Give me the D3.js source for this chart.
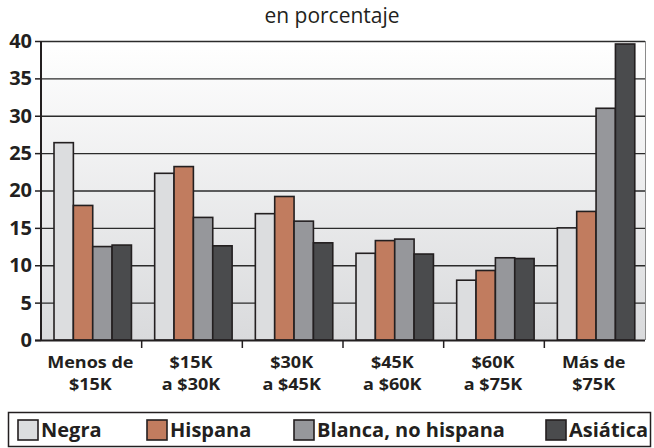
<!DOCTYPE html>
<html>
<head>
<meta charset="utf-8">
<script src="https://cdn.jsdelivr.net/npm/d3@7"></script>
<style>
  html, body { margin: 0; padding: 0; background: #fff; }
  svg { display: block; }
  text { font-family: "Open Sans", "Noto Sans", sans-serif; fill: #231f20; }
</style>
</head>
<body>
<svg id="chart" width="654" height="448"></svg>
<script>
const categories = [["Menos de", "$15K"], ["$15K", "a $30K"], ["$30K", "a $45K"], ["$45K", "a $60K"], ["$60K", "a $75K"], ["Más de", "$75K"]];
const seriesNames = ["Negra", "Hispana", "Blanca, no hispana", "Asiática"];
const negra   = [26.4, 22.3, 16.9, 11.6, 8.0, 15.0];
const hispana = [18.0, 23.2, 19.2, 13.3, 9.3, 17.2];
const blanca  = [12.5, 16.4, 15.9, 13.5, 11.0, 31.0];
const asiatica = [12.7, 12.6, 13.0, 11.5, 10.9, 39.6];
const yTicks = [0, 5, 10, 15, 20, 25, 30, 35, 40];
const colors = ["#dcdddf", "#c17c5f", "#96979b", "#4a4b4d"];
const title = "en porcentaje";

const series = [negra, hispana, blanca, asiatica];
const svg = d3.select("#chart");
const m = { left: 41, right: 645, top: 41, bottom: 340 };

const x0 = d3.scaleBand().domain(d3.range(categories.length)).range([m.left, m.right]).paddingInner(0).paddingOuter(0);
const x1 = d3.scaleBand().domain(d3.range(series.length)).range([0, x0.bandwidth()]).paddingInner(0).paddingOuter(0.6).align(0.56);
const y = d3.scaleLinear().domain([0, 40]).range([m.bottom, m.top]);

// background gradient
const defs = svg.append("defs");
const grad = defs.append("linearGradient").attr("id", "bg").attr("x1", 0).attr("y1", 0).attr("x2", 0).attr("y2", 1);
grad.append("stop").attr("offset", "0%").attr("stop-color", "#ffffff");
grad.append("stop").attr("offset", "100%").attr("stop-color", "#d9dadc");
svg.append("rect").attr("x", m.left).attr("y", m.top).attr("width", m.right - m.left).attr("height", m.bottom - m.top).attr("fill", "url(#bg)");

// gridlines
svg.append("g").selectAll("line").data(yTicks.filter(d => d > 0)).join("line")
  .attr("x1", m.left).attr("x2", m.right)
  .attr("y1", d => y(d) + 0.5).attr("y2", d => y(d) + 0.5)
  .attr("stroke", "#2b2b2b").attr("stroke-width", 1.3);

// right border
svg.append("line").attr("x1", m.right + 0.5).attr("x2", m.right + 0.5).attr("y1", m.top).attr("y2", m.bottom)
  .attr("stroke", "#8a8a8a").attr("stroke-width", 1);

// bars
const g = svg.append("g");
categories.forEach((c, i) => {
  series.forEach((s, j) => {
    g.append("rect")
      .attr("x", x0(i) + x1(j))
      .attr("y", y(s[i]))
      .attr("width", x1.bandwidth())
      .attr("height", y(0) - y(s[i]))
      .attr("fill", colors[j])
      .attr("stroke", "#231f20")
      .attr("stroke-width", 1.6);
  });
});

// y axis
const yAxis = d3.axisLeft(y).tickValues(yTicks).tickSize(6).tickPadding(3);
const ya = svg.append("g").attr("transform", `translate(${m.left},0)`).call(yAxis);
ya.select(".domain").attr("stroke", "#231f20").attr("stroke-width", 2).attr("d", `M0,${m.top}V${m.bottom}`);
ya.selectAll(".tick line").attr("stroke", "#231f20").attr("stroke-width", 1.5);
ya.selectAll(".tick text").attr("font-size", 20).attr("font-weight", 700).attr("fill", "#231f20")
  .style("font-family", "'Open Sans', sans-serif");

// x axis line
svg.append("line").attr("x1", m.left - 6).attr("x2", m.right).attr("y1", m.bottom + 0.5).attr("y2", m.bottom + 0.5)
  .attr("stroke", "#231f20").attr("stroke-width", 2.2);
// x ticks at group boundaries
svg.append("g").selectAll("line").data(d3.range(1, categories.length)).join("line")
  .attr("x1", d => x0(d)).attr("x2", d => x0(d))
  .attr("y1", m.bottom).attr("y2", m.bottom + 8)
  .attr("stroke", "#231f20").attr("stroke-width", 1.5);

// x labels (two separate lines, slightly widened to match the reference face)
const xg = svg.append("g").selectAll("g").data(categories).join("g")
  .attr("transform", (d, i) => `translate(${x0(i) + x0.bandwidth() / 2 - 1},0) scale(1.1,1)`);
xg.append("text").attr("x", 0).attr("y", 368).attr("text-anchor", "middle")
  .attr("font-size", 16.4).attr("font-weight", 700).text(d => d[0]);
xg.append("text").attr("x", 0).attr("y", 390.5).attr("text-anchor", "middle")
  .attr("font-size", 16.4).attr("font-weight", 700).text(d => d[1]);

// title
svg.append("text").attr("x", 332).attr("y", 23).attr("text-anchor", "middle")
  .attr("font-size", 21).text(title);

// legend
svg.append("rect").attr("x", 8.5).attr("y", 412.5).attr("width", 642).attr("height", 34)
  .attr("fill", "#fff").attr("stroke", "#231f20").attr("stroke-width", 1.5);
const legX = [18, 147, 294, 546];
const lg = svg.append("g").selectAll("g").data(seriesNames).join("g")
  .attr("transform", (d, i) => `translate(${legX[i]},420)`);
lg.append("rect").attr("width", 20).attr("height", 20)
  .attr("fill", (d, i) => colors[i]).attr("stroke", "#231f20").attr("stroke-width", 1.6);
lg.append("text").attr("x", 23).attr("y", 17).attr("font-size", 20).attr("font-weight", 700).text(d => d);
</script>
</body>
</html>
